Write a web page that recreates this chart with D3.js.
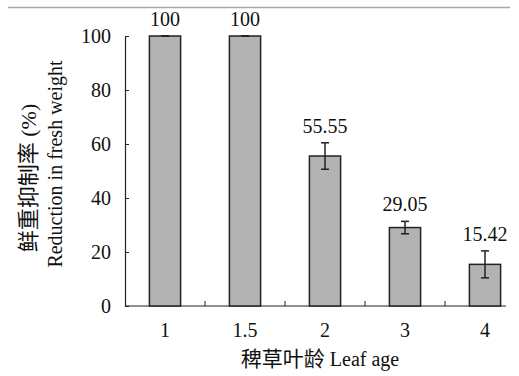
<!DOCTYPE html>
<html>
<head>
<meta charset="utf-8">
<script src="https://cdn.jsdelivr.net/npm/d3@7"></script>
<style>
  body { margin: 0; background: #fff; }
</style>
</head>
<body>
<script>
// leaf age categories and reduction in fresh weight (%)
var categories = ["1", "1.5", "2", "3", "4"];
var values = [100, 100, 55.55, 29.05, 15.42];
var errors = [0, 0, 4.9, 2.3, 5.0];
var valueLabels = ["100", "100", "55.55", "29.05", "15.42"];
var yTicks = [0, 20, 40, 60, 80, 100];

var width = 519, height = 376;
var plotLeft = 125, plotTop = 36, plotBottom = 306, bandW = 80;
var serif = "'Liberation Serif', 'Times New Roman', 'Noto Sans CJK SC', serif";
var fs = 20;

var svg = d3.select("body").append("svg")
    .attr("width", width)
    .attr("height", height)
    .attr("font-family", serif);

// thin grey rule along the top
svg.append("line")
    .attr("x1", 8).attr("x2", 510)
    .attr("y1", 7.5).attr("y2", 7.5)
    .attr("stroke", "#a8a8a8")
    .attr("stroke-width", 1.5);

var x = d3.scaleBand()
    .domain(categories)
    .range([plotLeft, plotLeft + bandW * categories.length])
    .paddingInner(0.61)
    .paddingOuter(0.305);

var y = d3.scaleLinear().domain([0, 100]).range([plotBottom, plotTop]);

// y axis, ticks pointing inward
var yAxis = d3.axisLeft(y).tickValues(yTicks).tickSizeInner(-4).tickSizeOuter(0).tickPadding(14);
var gy = svg.append("g")
    .attr("transform", "translate(" + plotLeft + ",0)")
    .call(yAxis)
    .attr("font-family", serif)
    .attr("font-size", fs);
gy.select(".domain").attr("stroke", "#222").attr("stroke-width", 1.2);
gy.selectAll(".tick line").attr("stroke", "#222");
gy.selectAll("text").attr("fill", "#111").attr("dy", "0.34em");

// x axis line + separator ticks between categories
svg.append("line")
    .attr("x1", plotLeft).attr("x2", 506)
    .attr("y1", plotBottom).attr("y2", plotBottom)
    .attr("stroke", "#222").attr("stroke-width", 1.2);

svg.selectAll(".sep")
    .data(categories.slice(1))
    .enter().append("line")
    .attr("class", "sep")
    .attr("x1", function(d){ return x(d) - x.step() * x.paddingInner() / 2; })
    .attr("x2", function(d){ return x(d) - x.step() * x.paddingInner() / 2; })
    .attr("y1", plotBottom).attr("y2", plotBottom - 5)
    .attr("stroke", "#222");

svg.selectAll(".xlab")
    .data(categories)
    .enter().append("text")
    .attr("class", "xlab")
    .attr("x", function(d){ return x(d) + x.bandwidth() / 2; })
    .attr("y", 337)
    .attr("text-anchor", "middle")
    .attr("font-size", fs)
    .attr("fill", "#111")
    .text(function(d){ return d; });

// bars
svg.selectAll(".bar")
    .data(values)
    .enter().append("rect")
    .attr("class", "bar")
    .attr("x", function(d, i){ return x(categories[i]); })
    .attr("y", function(d){ return y(d); })
    .attr("width", x.bandwidth())
    .attr("height", function(d){ return plotBottom - y(d); })
    .attr("fill", "#b3b3b3")
    .attr("stroke", "#222")
    .attr("stroke-width", 1.5);

// error bars
var eb = svg.selectAll(".err")
    .data(values)
    .enter().append("g")
    .attr("class", "err")
    .attr("transform", function(d, i){ return "translate(" + (x(categories[i]) + x.bandwidth() / 2) + ",0)"; });

eb.append("line")
    .attr("y1", function(d, i){ return y(d + errors[i]); })
    .attr("y2", function(d, i){ return y(d - errors[i]); })
    .attr("stroke", "#222").attr("stroke-width", 1.5);
eb.append("line")
    .attr("x1", -4).attr("x2", 4)
    .attr("y1", function(d, i){ return y(d + errors[i]); })
    .attr("y2", function(d, i){ return y(d + errors[i]); })
    .attr("stroke", "#222").attr("stroke-width", 1.5);
eb.append("line")
    .attr("x1", -4).attr("x2", 4)
    .attr("y1", function(d, i){ return y(d - errors[i]); })
    .attr("y2", function(d, i){ return y(d - errors[i]); })
    .attr("stroke", "#222").attr("stroke-width", 1.5);

// value labels
svg.selectAll(".vlab")
    .data(values)
    .enter().append("text")
    .attr("class", "vlab")
    .attr("x", function(d, i){ return x(categories[i]) + x.bandwidth() / 2; })
    .attr("y", function(d, i){ return y(d + errors[i]) - 10; })
    .attr("text-anchor", "middle")
    .attr("font-size", fs)
    .attr("fill", "#111")
    .text(function(d, i){ return valueLabels[i]; });

// axis titles
var yt1 = svg.append("text")
    .attr("transform", "translate(36,178) rotate(-90)")
    .attr("text-anchor", "middle")
    .attr("font-size", 22)
    .attr("fill", "#111");
yt1.append("tspan").text("鲜重抑制率");
yt1.append("tspan").text(" (%)");

svg.append("text")
    .attr("transform", "translate(62,164) rotate(-90)")
    .attr("text-anchor", "middle")
    .attr("font-size", fs)
    .attr("fill", "#111")
    .text("Reduction in fresh weight");

var xt = svg.append("text")
    .attr("x", 320).attr("y", 366)
    .attr("text-anchor", "middle")
    .attr("font-size", fs)
    .attr("fill", "#111");
xt.append("tspan").attr("font-size", 21).text("稗草叶龄");
xt.append("tspan").text(" Leaf age");
</script>
</body>
</html>
